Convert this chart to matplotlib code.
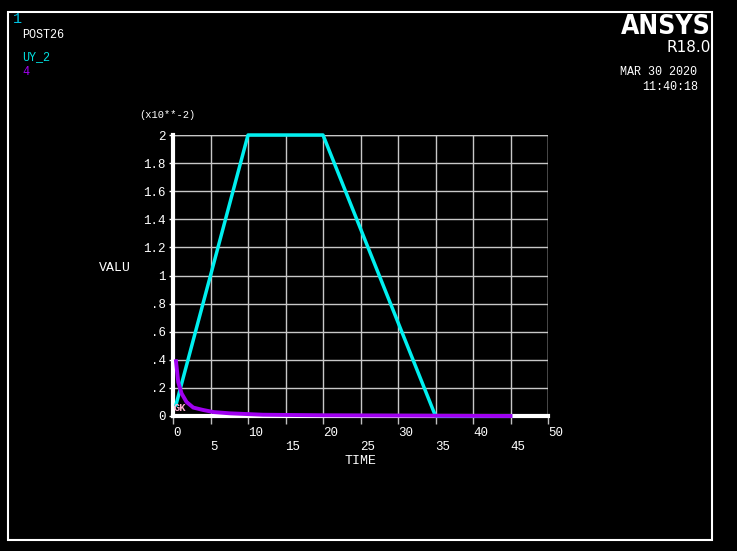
import matplotlib
matplotlib.use("Agg")
import matplotlib.pyplot as plt
from matplotlib.patches import Rectangle
from matplotlib.transforms import blended_transform_factory

# data (VALU in units of 1e-2)
uy2_time = [0.4, 10, 20, 35, 45]
uy2_val = [0.08, 2.0, 2.0, 0.0, 0.0]

n4_time = [0.4, 0.7, 1.15, 1.8, 2.7, 4.0, 5.4, 7.6, 12, 20, 35, 45]
n4_val = [0.39, 0.24, 0.16, 0.10, 0.06, 0.043, 0.028, 0.019, 0.009, 0.005, 0.002, 0.0]

x_ticks = [0, 5, 10, 15, 20, 25, 30, 35, 40, 45, 50]
y_ticks = [0, 0.2, 0.4, 0.6, 0.8, 1.0, 1.2, 1.4, 1.6, 1.8, 2.0]
y_labels = ['0', '.2', '.4', '.6', '.8', '1', '1.2', '1.4', '1.6', '1.8', '2']

W, H = 737, 551
mono = 'Liberation Mono'

fig = plt.figure(figsize=(W / 100, H / 100), dpi=100, facecolor='black')

# white frame around the window
fig.patches.append(Rectangle((8 / W, 1 - 540 / H), 704 / W, 528 / H,
                             transform=fig.transFigure, fill=False,
                             edgecolor='white', lw=1.5))

ax = fig.add_axes([173 / W, 1 - 416 / H, 375 / W, 281 / H])
ax.set_facecolor('black')
ax.set_xlim(0, 50)
ax.set_ylim(0, 2)

for s in ['top', 'right']:
    ax.spines[s].set_visible(False)
for s in ['left', 'bottom']:
    ax.spines[s].set_color('white')
    ax.spines[s].set_linewidth(3)
    ax.spines[s].set_zorder(3)

ax.set_xticks(x_ticks)
ax.set_yticks(y_ticks)
ax.set_xticklabels([])
ax.set_yticklabels(y_labels, family=mono, fontsize=9, color='white')
ax.tick_params(axis='x', length=6, color='#c0c0c0', width=1, direction='out')
ax.tick_params(axis='y', length=3, color='white', width=1, pad=2)
ax.grid(True, color='#c8c8c8', lw=1)
ax.axhline(2, color='#c8c8c8', lw=1)
ax.axvline(50, color='#c8c8c8', lw=1)

# staggered x tick labels, left edge on the tick
tr = blended_transform_factory(ax.transData, ax.transAxes)
for i, t in enumerate(x_ticks):
    yy = -0.06 if i % 2 == 0 else -0.11
    ax.text(t, yy, str(t), transform=tr, ha='left', va='center',
            family=mono, fontsize=9, color='white')

ax.plot(uy2_time, uy2_val, color='#00f0f0', lw=2.5, zorder=4, clip_on=False)
ax.plot(n4_time, n4_val, color='#a000f0', lw=2.8, zorder=5, clip_on=False)
ax.text(0.1, 0.02, 'GK', family=mono, fontsize=7.5, color='#ffb0d0',
        fontweight='bold', zorder=6, va='bottom')

ax.text(-0.09, 1.07, '(x10**-2)', transform=ax.transAxes, family=mono,
        fontsize=7.5, color='white', va='center')
fig.text(99 / W, 1 - 268 / H, 'VALU', family=mono, fontsize=9.5,
         color='white', va='center')
fig.text(360 / W, 1 - 461 / H, 'TIME', family=mono, fontsize=9.5,
         color='white', va='center', ha='center')

# header texts
fig.text(13 / W, 1 - 19 / H, '1', family=mono, fontsize=11, color='#00c0e0', va='center')
fig.text(22 / W, 1 - 35 / H, 'POST26', family=mono, fontsize=8.5, color='white', va='center')
fig.text(22 / W, 1 - 57 / H, 'UY_2', family=mono, fontsize=8.5, color='#00e0e0', va='center')
fig.text(22 / W, 1 - 72 / H, '4', family=mono, fontsize=8.5, color='#a000f0', va='center')

fig.text(711 / W, 1 - 27 / H, 'ANSYS', family='DejaVu Sans', fontsize=19,
         fontweight='bold', fontstretch='condensed', color='white',
         ha='right', va='center')
fig.text(711 / W, 1 - 48 / H, 'R18.0', family='DejaVu Sans', fontsize=11,
         color='white', ha='right', va='center')
fig.text(620 / W, 1 - 72 / H, 'MAR 30 2020', family=mono, fontsize=8.5,
         color='white', va='center')
fig.text(642 / W, 1 - 87 / H, '11:40:18', family=mono, fontsize=8.5,
         color='white', va='center')

fig.savefig('out.png', dpi=100, facecolor='black')
